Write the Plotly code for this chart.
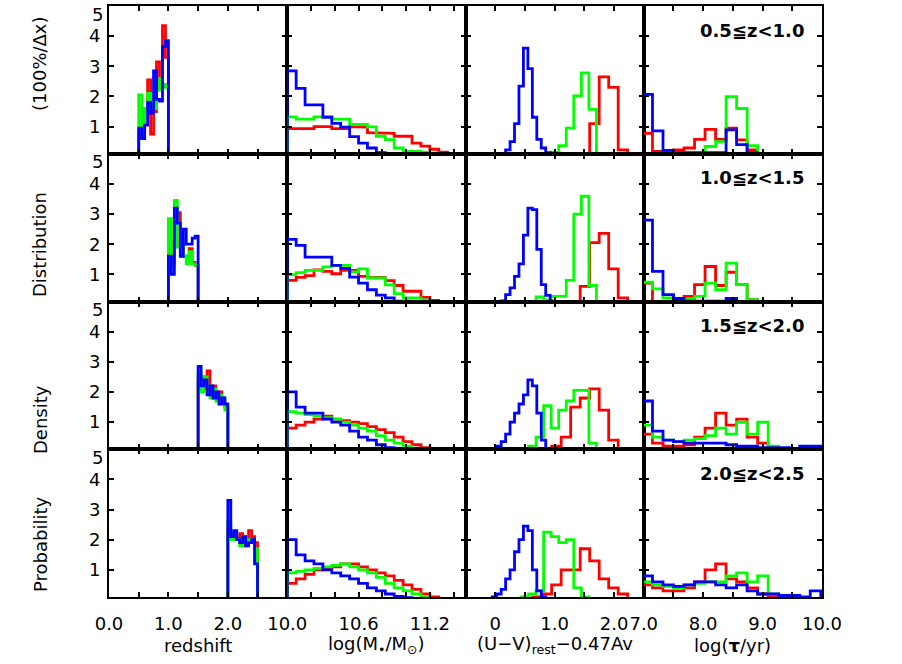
import plotly.graph_objects as go
from plotly.subplots import make_subplots

RED, GREEN, BLUE = "#ff0000", "#00ff00", "#0000ff"

# ---------------- data ----------------
# column 1 : redshift, bins of 0.05 starting at each row's lower z limit
z_x0 = [0.5, 1.0, 1.5, 2.0]
z_dx = 0.05
z_red = [[0.8, 0.6, 1.6, 2.55, 0.75, 1.5, 3.15, 2.25, 4.35, 3.3],
         [2.1, 1.4, 2.9, 3.05, 2.0, 1.6, 1.6, 1.85, 1.4, 1.3],
         [2.4, 2.5, 2.1, 2.7, 1.9, 2.2, 1.8, 2.0, 1.7, 1.5],
         [2.4, 2.2, 2.0, 2.1, 2.2, 1.8, 2.0, 2.3, 2.1, 1.9]]
z_green = [[2.05, 0.8, 1.6, 2.1, 1.7, 1.6, 2.2, 2.6, 2.4, 2.3],
           [2.85, 1.3, 3.45, 1.9, 2.1, 1.6, 1.35, 1.75, 1.35, 1.3],
           [2.6, 2.0, 2.5, 2.2, 1.8, 2.1, 1.7, 1.9, 1.8, 1.4],
           [2.6, 2.0, 2.2, 2.0, 1.8, 2.1, 1.9, 2.0, 1.9, 1.7]]
z_blue = [[0.95, 0.6, 1.05, 1.8, 1.45, 2.85, 1.9, 1.85, 3.65, 3.85],
          [1.6, 1.0, 3.2, 2.7, 1.6, 2.5, 2.0, 2.0, 2.2, 2.27],
          [2.85, 2.2, 2.4, 1.9, 2.2, 1.8, 2.0, 1.6, 1.8, 1.6],
          [3.3, 2.1, 2.3, 2.0, 1.9, 2.1, 1.8, 1.9, 2.0, 1.2]]

# column 2 : log stellar mass, bins of 0.075 from 10.0
m_x0, m_dx = 10.0, 0.075
m_red = [[0.93, 0.93, 0.93, 1.0, 1.0, 0.93, 0.93, 1.0, 0.98, 0.8, 0.78, 0.78, 0.68, 0.68, 0.45, 0.35, 0.25, 0.15, 0.1, 0.05],
         [0.8, 0.9, 0.96, 1.15, 1.1, 1.02, 1.13, 1.13, 0.93, 0.9, 0.9, 0.79, 0.63, 0.44, 0.44, 0.24, 0.14, 0.08, 0.05, 0.03],
         [0.8, 0.9, 1.0, 1.1, 1.2, 1.1, 1.05, 1.0, 0.95, 0.85, 0.75, 0.65, 0.5, 0.35, 0.25, 0.15, 0.1, 0.05, 0.03, 0.02],
         [0.55, 0.7, 0.85, 1.0, 1.05, 1.1, 1.2, 1.2, 1.1, 1.0, 0.9, 0.8, 0.65, 0.5, 0.35, 0.2, 0.1, 0.05, 0.03, 0.02]]
m_green = [[1.32, 1.25, 1.25, 1.32, 1.32, 1.25, 1.25, 1.07, 1.07, 0.99, 0.68, 0.57, 0.29, 0.18, 0.18, 0.15, 0.12, 0.08, 0.05, 0.03],
           [0.99, 1.06, 1.13, 1.13, 1.25, 1.3, 1.3, 1.08, 1.18, 0.88, 0.88, 0.65, 0.36, 0.22, 0.22, 0.15, 0.1, 0.05, 0.03, 0.02],
           [1.35, 1.3, 1.25, 1.2, 1.15, 1.1, 1.0, 0.9, 0.8, 0.7, 0.55, 0.4, 0.3, 0.2, 0.1, 0.05, 0.03, 0.02, 0.02, 0.01],
           [0.9, 0.95, 1.0, 1.05, 1.1, 1.15, 1.2, 1.1, 1.0, 0.9, 0.75, 0.55, 0.4, 0.3, 0.2, 0.1, 0.05, 0.03, 0.02, 0.01]]
m_blue = [[2.85, 2.27, 1.72, 1.72, 1.31, 1.11, 0.98, 0.67, 0.45, 0.29, 0.14, 0.05, 0.03, 0.02, 0.02, 0.01, 0.01, 0.01, 0.0, 0.0],
          [2.16, 1.96, 1.57, 1.57, 1.57, 1.3, 1.2, 0.91, 0.71, 0.49, 0.31, 0.22, 0.11, 0.11, 0.03, 0.02, 0.02, 0.01, 0.01, 0.01],
          [2.0, 1.5, 1.3, 1.3, 1.1, 1.0, 0.9, 0.7, 0.5, 0.4, 0.25, 0.15, 0.1, 0.05, 0.03, 0.02, 0.02, 0.01, 0.01, 0.01],
          [2.0, 1.5, 1.3, 1.2, 1.0, 0.9, 0.8, 0.7, 0.55, 0.4, 0.3, 0.2, 0.12, 0.08, 0.05, 0.03, 0.02, 0.02, 0.01, 0.01]]

# column 3 : (U-V)rest - 0.47Av ; each sample has its own binning
uv_blue_x0, uv_blue_dx = -0.125, 0.075
uv_green_x0, uv_green_dx = 0.18, 0.127
uv_red_x0, uv_red_dx = 0.63, 0.16
uv_blue = [[0.02, 0.02, 0.03, 0.05, 0.23, 0.5, 1.1, 2.34, 3.6, 2.92, 1.31, 0.58, 0.29, 0.14, 0.07, 0.03, 0.02, 0.02],
           [0.02, 0.03, 0.05, 0.12, 0.33, 0.55, 0.93, 1.35, 2.3, 3.2, 3.15, 1.83, 0.66, 0.3, 0.11, 0.05, 0.02],
           [0.05, 0.1, 0.2, 0.35, 0.6, 1.0, 1.3, 1.6, 1.9, 2.4, 2.2, 1.3, 0.4, 0.1, 0.05],
           [0.05, 0.1, 0.2, 0.35, 0.7, 1.0, 1.6, 2.0, 2.45, 2.3, 1.0, 0.3, 0.1, 0.05, 0.02]]
uv_green = [[0.02, 0.02, 0.02, 0.03, 0.05, 0.05, 0.15, 0.37, 0.95, 2.02, 2.78, 1.57, 0.1, 0.02],
            [0.02, 0.02, 0.03, 0.05, 0.25, 0.15, 0.27, 0.27, 0.8, 3.0, 3.59, 0.63, 0.05, 0.02],
            [0.03, 0.05, 0.1, 0.2, 0.5, 1.55, 0.8, 1.4, 1.7, 2.05, 2.05, 0.3, 0.05],
            [0.03, 0.05, 0.1, 0.2, 0.3, 2.25, 2.1, 1.9, 2.0, 0.4, 0.1, 0.03]]
uv_red = [[0.02, 0.02, 0.03, 0.05, 0.05, 0.07, 1.1, 2.65, 2.3, 0.23, 0.07, 0.05],
          [0.02, 0.02, 0.03, 0.05, 0.05, 0.6, 2.05, 2.36, 1.18, 0.22, 0.05, 0.03],
          [0.05, 0.1, 0.2, 0.5, 1.5, 1.8, 2.1, 1.4, 0.4, 0.1, 0.05],
          [0.1, 0.2, 0.5, 1.0, 1.0, 1.7, 1.3, 0.7, 0.4, 0.2, 0.05]]

# column 4 : log(tau/yr), bins of 0.177 from 6.97
t_x0, t_dx = 6.97, 0.177
t_red = [[0.78, 0.18, 0.14, 0.23, 0.29, 0.58, 0.91, 0.58, 0.95, 0.56, 0.23, 0.05, 0.03, 0.03, 0.02, 0.02, 0.02],
         [0.71, 0.08, 0.08, 0.1, 0.27, 0.66, 1.26, 0.63, 1.07, 0.66, 0.16, 0.05, 0.03, 0.03, 0.02, 0.02, 0.02],
         [0.6, 0.3, 0.2, 0.2, 0.25, 0.5, 0.8, 1.3, 0.9, 1.1, 0.5, 0.3, 0.1, 0.05, 0.05, 0.05, 0.05],
         [0.5, 0.4, 0.3, 0.3, 0.4, 0.6, 1.0, 1.2, 0.7, 0.6, 0.4, 0.2, 0.1, 0.05, 0.05, 0.05, 0.05]]
t_green = [[0.1, 0.05, 0.03, 0.03, 0.03, 0.05, 0.34, 0.5, 1.99, 1.6, 0.37, 0.1, 0.05, 0.03, 0.02, 0.02, 0.02],
           [0.74, 0.52, 0.22, 0.16, 0.18, 0.27, 0.71, 0.49, 1.37, 0.66, 0.16, 0.05, 0.03, 0.02, 0.02, 0.02, 0.02],
           [0.9, 0.5, 0.4, 0.35, 0.4, 0.45, 0.55, 0.8, 0.6, 1.0, 0.6, 1.0, 0.2, 0.1, 0.05, 0.05, 0.05],
           [0.6, 0.5, 0.45, 0.4, 0.5, 0.55, 0.6, 0.6, 0.8, 0.9, 0.6, 0.8, 0.2, 0.1, 0.05, 0.05, 0.05]]
t_blue = [[2.07, 0.86, 0.21, 0.14, 0.14, 0.14, 0.14, 0.14, 0.89, 0.4, 0.14, 0.08, 0.05, 0.05, 0.05, 0.05, 0.05],
          [2.8, 1.1, 0.33, 0.2, 0.11, 0.11, 0.11, 0.11, 0.2, 0.08, 0.05, 0.05, 0.05, 0.05, 0.05, 0.05, 0.05],
          [1.7, 0.7, 0.4, 0.35, 0.3, 0.3, 0.3, 0.3, 0.25, 0.2, 0.2, 0.15, 0.15, 0.15, 0.1, 0.2, 0.2],
          [0.8, 0.6, 0.5, 0.45, 0.5, 0.6, 0.6, 0.5, 0.4, 0.5, 0.3, 0.2, 0.2, 0.15, 0.15, 0.1, 0.3]]

row_labels = ["0.5≦z<1.0", "1.0≦z<1.5", "1.5≦z<2.0", "2.0≦z<2.5"]
x_titles = ["redshift", "log(M<sub>•</sub>/M<sub>⊙</sub>)",
            "(U−V)<sub>rest</sub>−0.47Av", "log(<b>τ</b>/yr)"]
y_title_words = ["Probability", "Density", "Distribution", "(100%/Δx)"]

x_ranges = [[0.0, 3.0], [10.0, 11.5], [-0.5, 2.5], [7.0, 10.0]]
x_ticks = [[0.0, 0.5, 1.0, 1.5, 2.0, 2.5, 3.0],
           [10.0, 10.2, 10.4, 10.6, 10.8, 11.0, 11.2, 11.4],
           [-0.5, 0.0, 0.5, 1.0, 1.5, 2.0, 2.5],
           [7.0, 7.5, 8.0, 8.5, 9.0, 9.5, 10.0]]
x_ticktext = [["0.0", "", "1.0", "", "2.0", "", ""],
              ["10.0", "", "", "10.6", "", "", "11.2", ""],
              ["", "0", "", "1.0", "", "2.0", ""],
              ["7.0", "", "8.0", "", "9.0", "", "10.0"]]
y_ticks = [1, 2, 3, 4, 5]
y_ticktext = ["1", "2", "3", "4", ""]   # the top label "5" is set slightly below its tick
top_label = "5"
y_range = [0.1, 5.0]

# ---------------- helpers ----------------
def step(x0, dx, vals):
    xs, ys = [x0], [0.0]
    for i, v in enumerate(vals):
        xs += [x0 + i * dx, x0 + (i + 1) * dx]
        ys += [v, v]
    xs.append(x0 + len(vals) * dx)
    ys.append(0.0)
    return xs, ys

W, H = 902, 664
L, R, T, B = 109, 822, 6, 597
cw = (R - L) / 4.0
rh = (B - T) / 4.0
FONT = "DejaVu Sans, Liberation Sans, Arial, sans-serif"

fig = make_subplots(rows=4, cols=4, horizontal_spacing=0, vertical_spacing=0)

panels = []
for r in range(4):
    panels.append([
        [(z_x0[r], z_dx, z_red[r], RED), (z_x0[r], z_dx, z_green[r], GREEN), (z_x0[r], z_dx, z_blue[r], BLUE)],
        [(m_x0, m_dx, m_red[r], RED), (m_x0, m_dx, m_green[r], GREEN), (m_x0, m_dx, m_blue[r], BLUE)],
        [(uv_red_x0, uv_red_dx, uv_red[r], RED), (uv_green_x0, uv_green_dx, uv_green[r], GREEN),
         (uv_blue_x0, uv_blue_dx, uv_blue[r], BLUE)],
        [(t_x0, t_dx, t_red[r], RED), (t_x0, t_dx, t_green[r], GREEN), (t_x0, t_dx, t_blue[r], BLUE)],
    ])

for r in range(4):
    for c in range(4):
        for (x0, dx, vals, col) in panels[r][c]:
            xs, ys = step(x0, dx, vals)
            fig.add_trace(go.Scatter(x=xs, y=ys, mode="lines",
                                     line=dict(color=col, width=2.8),
                                     showlegend=False, hoverinfo="skip"),
                          row=r + 1, col=c + 1)
        x0p = (L + c * cw) / W
        x1p = (L + (c + 1) * cw) / W
        y1p = 1 - (T + r * rh) / H
        y0p = 1 - (T + (r + 1) * rh) / H
        fig.update_xaxes(domain=[x0p, x1p], range=x_ranges[c], automargin=False,
                         tickvals=x_ticks[c], ticktext=x_ticktext[c],
                         showticklabels=(r == 3), ticks="inside", ticklen=5,
                         tickwidth=1.5, tickcolor="black", showline=True, linewidth=2,
                         linecolor="black", mirror="ticks", showgrid=False,
                         zeroline=False, ticklabelstandoff=9, ticklabeloverflow="allow",
                         tickfont=dict(family=FONT, size=18, color="black"),
                         row=r + 1, col=c + 1)
        fig.update_yaxes(domain=[y0p, y1p], range=y_range, tickvals=y_ticks, automargin=False,
                         ticktext=y_ticktext,
                         showticklabels=(c == 0), ticks="inside", ticklen=5,
                         tickwidth=1.5, tickcolor="black", showline=True, linewidth=2,
                         linecolor="black", mirror="ticks", showgrid=False,
                         zeroline=False, ticklabelstandoff=3, ticklabeloverflow="allow",
                         tickfont=dict(family=FONT, size=18, color="black"),
                         row=r + 1, col=c + 1)

annos = []
for r in range(4):
    annos.append(dict(x=806 / W, y=1 - (T + r * rh + 24) / H, xref="paper", yref="paper",
                      text="<b>%s</b>" % row_labels[r], showarrow=False,
                      xanchor="right", yanchor="middle", font=dict(family=FONT, size=18, color="black")))
    annos.append(dict(x=(L - 4) / W, y=1 - (T + r * rh + 8) / H, xref="paper", yref="paper",
                      text=top_label, showarrow=False, xanchor="right", yanchor="middle",
                      xshift=0, font=dict(family=FONT, size=18, color="black")))
for c in range(4):
    annos.append(dict(x=(L + (c + 0.5) * cw) / W, y=1 - 645 / H, xref="paper", yref="paper",
                      text=x_titles[c], showarrow=False, xanchor="center", yanchor="middle",
                      font=dict(family=FONT, size=18, color="black")))
word_centers = [545, 420, 245, 64]
for w, yc in zip(y_title_words, word_centers):
    annos.append(dict(x=40 / W, y=1 - yc / H, xref="paper", yref="paper", text=w,
                      textangle=-90, showarrow=False, xanchor="center", yanchor="middle",
                      font=dict(family=FONT, size=18, color="black")))

fig.update_layout(width=W, height=H, margin=dict(l=0, r=0, t=0, b=0, autoexpand=False),
                  paper_bgcolor="white", plot_bgcolor="white",
                  font=dict(family=FONT, size=18, color="black"),
                  annotations=annos)

fig.write_html("out.html", config={"displayModeBar": False},
               post_script="document.body.style.margin='0';document.body.style.padding='0';")
